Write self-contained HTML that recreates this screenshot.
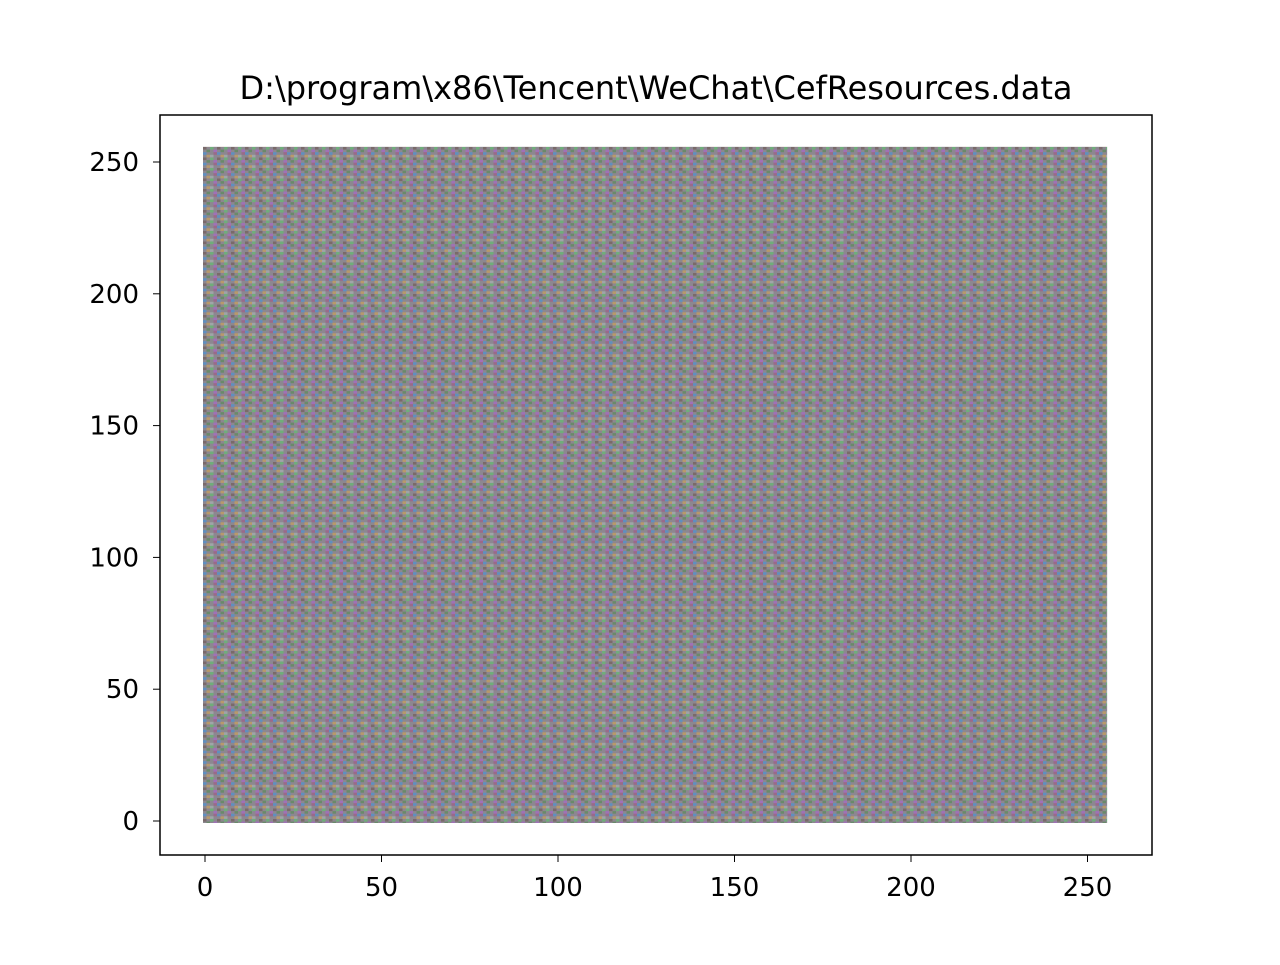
<!DOCTYPE html>
<html><head><meta charset="utf-8"><style>
body{margin:0;background:#fff;}
svg text{font-family:"DejaVu Sans","Liberation Sans",sans-serif;fill:#000;}
</style></head><body>
<svg width="1280" height="960" viewBox="0 0 1280 960">
<defs>
<pattern id="noise" width="14" height="10.5" patternUnits="userSpaceOnUse">
<rect width="14" height="10.5" fill="#8c8790"/>
<rect x="0" y="0" width="3.5" height="2.6" fill="#6fae7a"/>
<rect x="3.5" y="2.6" width="3.5" height="2.6" fill="#a070b8"/>
<rect x="7" y="5.2" width="3.5" height="2.6" fill="#5f8fc0"/>
<rect x="10.5" y="7.8" width="3.5" height="2.6" fill="#b89a6a"/>
<rect x="7" y="0" width="3.5" height="2.6" fill="#7a6a6a"/>
<rect x="0" y="7.8" width="3.5" height="2.6" fill="#a0a4a8"/>
<rect x="10.5" y="2.6" width="3.5" height="2.6" fill="#6a8a6a"/>
<rect x="3.5" y="5.2" width="3.5" height="2.6" fill="#9a6a8a"/>
</pattern>
</defs>
<text x="656" y="99" font-size="32" text-anchor="middle">D:\program\x86\Tencent\WeChat\CefResources.data</text>
<g id="plot"></g>
<rect x="160" y="115" width="992" height="740" fill="none" stroke="#000" stroke-width="1.5"/>
<g id="axes"></g>
</svg>
<script>
const xExtent=[0,255];
const yExtent=[0,255];
const xTicks=[0,50,100,150,200,250];
const yTicks=[0,50,100,150,200,250];
const sx=v=>205+v*(911-205)/200;
const sy=v=>821-v*(821-162)/250;
const NS='http://www.w3.org/2000/svg';
const plot=document.getElementById('plot');
const r=document.createElementNS(NS,'rect');
r.setAttribute('x',sx(xExtent[0])-2);
r.setAttribute('y',sy(yExtent[1])-2);
r.setAttribute('width',sx(xExtent[1])-sx(xExtent[0])+4);
r.setAttribute('height',sy(yExtent[0])-sy(yExtent[1])+4);
r.setAttribute('fill','url(#noise)');


plot.appendChild(r);
const axes=document.getElementById('axes');
xTicks.forEach(t=>{
 const l=document.createElementNS(NS,'line');
 l.setAttribute('x1',sx(t));l.setAttribute('x2',sx(t));l.setAttribute('y1',855);l.setAttribute('y2',862);l.setAttribute('stroke','#000');
 
 
 axes.appendChild(l);
 const tx=document.createElementNS(NS,'text');
 tx.setAttribute('x',sx(t));tx.setAttribute('y',896);tx.setAttribute('font-size','26');tx.setAttribute('text-anchor','middle');
 tx.textContent=t;
 
 
 axes.appendChild(tx);
});
yTicks.forEach(t=>{
 const l=document.createElementNS(NS,'line');
 l.setAttribute('x1',153);l.setAttribute('x2',160);l.setAttribute('y1',sy(t));l.setAttribute('y2',sy(t));l.setAttribute('stroke','#000');
 
 
 axes.appendChild(l);
 const tx=document.createElementNS(NS,'text');
 tx.setAttribute('x',139);tx.setAttribute('y',sy(t)+9);tx.setAttribute('font-size','26');tx.setAttribute('text-anchor','end');
 tx.textContent=t;
 
 
 axes.appendChild(tx);
});
</script>
</body></html>
